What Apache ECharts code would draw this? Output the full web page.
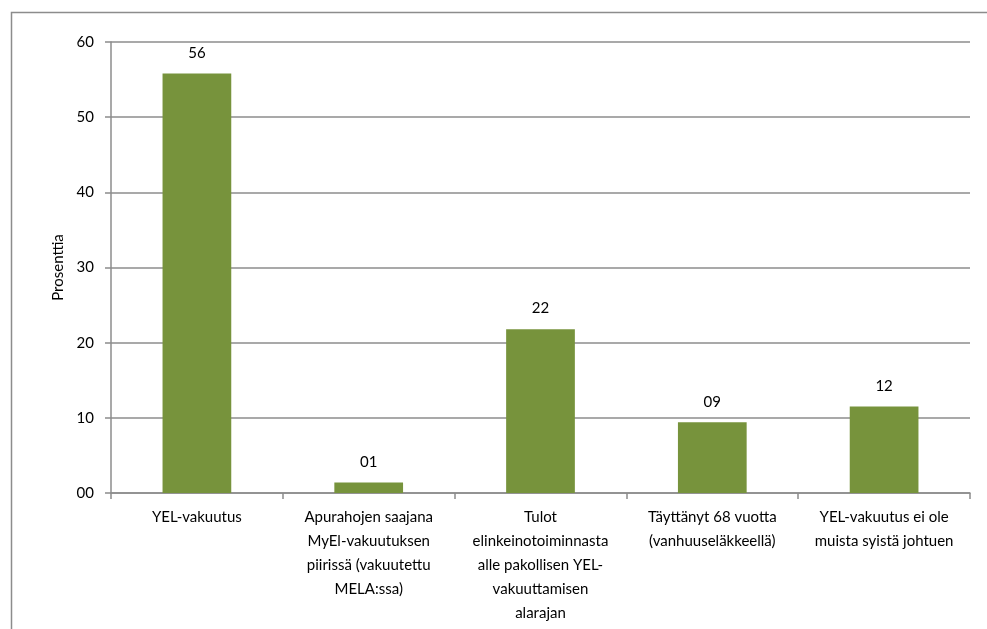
<!DOCTYPE html>
<html>
<head>
<meta charset="utf-8">
<script src="https://cdn.jsdelivr.net/npm/echarts@6/dist/echarts.min.js"></script>
<style>
  html, body { margin: 0; padding: 0; background: #fff; }
  #main { width: 987px; height: 629px; }
</style>
</head>
<body>
<div id="main"></div>
<script>
// 分类 (X轴)
var categories = [
    "YEL-vakuutus",
    "Apurahojen saajana\nMyEl-vakuutuksen\npiirissä (vakuutettu\nMELA:ssa)",
    "Tulot\nelinkeinotoiminnasta\nalle pakollisen YEL-\nvakuuttamisen\nalarajan",
    "Täyttänyt 68 vuotta\n(vanhuuseläkkeellä)",
    "YEL-vakuutus ei ole\nmuista syistä johtuen"
];
// 百分比
var values = [55.8, 1.4, 21.8, 9.4, 11.5];
var yTicks = [0, 10, 20, 30, 40, 50, 60];

function pad2(v) {
    var s = String(Math.round(v));
    return s.length < 2 ? '0' + s : s;
}

var myChart = echarts.init(document.getElementById('main'));
var font = 'Lato, "Open Sans", sans-serif';

myChart.setOption({
    backgroundColor: '#fff',
    textStyle: { fontFamily: font },
    graphic: [{
        type: 'rect',
        shape: { x: 11.5, y: 12.5, width: 1200, height: 800 },
        style: { fill: 'none', stroke: '#8c8c8c', lineWidth: 1.5 },
        silent: true
    }],
    grid: { left: 111, right: 17, top: 42, bottom: 136 },
    xAxis: {
        type: 'category',
        data: categories,
        axisLine: { lineStyle: { color: '#8c8c8c', width: 1.5 } },
        axisTick: { show: true, length: 6, lineStyle: { color: '#8c8c8c', width: 1.5 } },
        axisLabel: {
            interval: 0,
            margin: 12,
            color: '#000',
            fontSize: 15,
            lineHeight: 24,
            fontFamily: font
        }
    },
    yAxis: {
        type: 'value',
        min: yTicks[0],
        max: yTicks[yTicks.length - 1],
        interval: 10,
        name: 'Prosenttia',
        nameLocation: 'middle',
        nameGap: 45,
        nameRotate: 90,
        nameTextStyle: { color: '#000', fontSize: 15, fontFamily: font },
        axisLine: { show: true, lineStyle: { color: '#8c8c8c', width: 1.5 } },
        axisTick: { show: true, length: 6, lineStyle: { color: '#8c8c8c', width: 1.5 } },
        axisLabel: {
            color: '#000',
            fontSize: 15,
            margin: 17,
            fontFamily: font,
            formatter: function (v) { return pad2(v); }
        },
        splitLine: { show: true, lineStyle: { color: '#8c8c8c', width: 1.5 } }
    },
    series: [{
        type: 'bar',
        data: values,
        barWidth: '40%',
        itemStyle: { color: '#77933c' },
        label: {
            show: true,
            position: 'top',
            distance: 13,
            color: '#000',
            fontSize: 15,
            fontFamily: font,
            formatter: function (p) { return pad2(p.value); }
        }
    }],
    animation: false
});
</script>
</body>
</html>
